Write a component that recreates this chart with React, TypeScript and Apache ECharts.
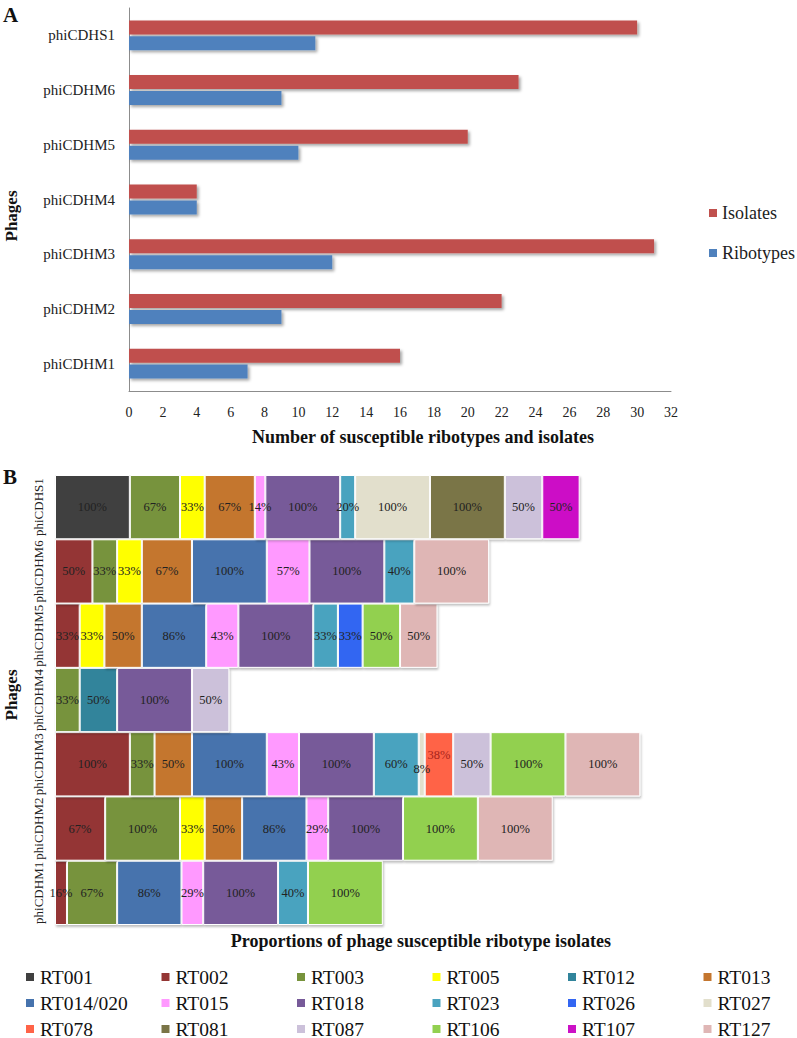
import React, { useEffect, useRef } from "react";
import * as echarts from "echarts";

const phages = ["phiCDHM1", "phiCDHM2", "phiCDHM3", "phiCDHM4", "phiCDHM5", "phiCDHM6", "phiCDHS1"];
const isolates = [16, 22, 31, 4, 20, 23, 30];
const ribotypes = [7, 9, 12, 4, 10, 9, 11];
const xTicksA = { min: 0, max: 32, interval: 2 };

const rtNames = ["RT001", "RT002", "RT003", "RT005", "RT012", "RT013", "RT014/020", "RT015", "RT018",
  "RT023", "RT026", "RT027", "RT078", "RT081", "RT087", "RT106", "RT107", "RT127"];
const rtColors = ["#404040", "#943634", "#77933c", "#ffff00", "#31849b", "#c4762f", "#4673ad", "#ff99ff", "#775a99",
  "#4aa3bf", "#3366f2", "#e2dfcc", "#ff6347", "#7a7446", "#ccc1da", "#92d050", "#cc11c6", "#dfb6b5"];
// values per phage in order phiCDHM1..phiCDHS1 (percent of ribotype isolates susceptible)
const rt001 = [null, null, null, null, null, null, 100];
const rt002 = [16, 67, 100, null, 33, 50, null];
const rt003 = [67, 100, 33, 33, null, 33, 67];
const rt005 = [null, 33, null, null, 33, 33, 33];
const rt012 = [null, null, null, 50, null, null, null];
const rt013 = [null, 50, 50, null, 50, 67, 67];
const rt014 = [86, 86, 100, null, 86, 100, null];
const rt015 = [29, 29, 43, null, 43, 57, 14];
const rt018 = [100, 100, 100, 100, 100, 100, 100];
const rt023 = [40, null, 60, null, 33, 40, 20];
const rt026 = [null, null, null, null, 33, null, null];
const rt027 = [null, null, 8, null, null, null, 100];
const rt078 = [null, null, 38, null, null, null, null];
const rt081 = [null, null, null, null, null, null, 100];
const rt087 = [null, null, 50, 50, null, null, 50];
const rt106 = [100, 100, 100, null, 50, null, null];
const rt107 = [null, null, null, null, null, null, 50];
const rt127 = [null, 100, 100, null, 50, 100, null];
const rtValues = [rt001, rt002, rt003, rt005, rt012, rt013, rt014, rt015, rt018, rt023, rt026, rt027,
  rt078, rt081, rt087, rt106, rt107, rt127];

const SERIF = "Liberation Serif";

export default function App() {
  const ref = useRef<HTMLDivElement>(null);
  useEffect(() => {
    if (!ref.current) return;
    const chart = echarts.init(ref.current, null, { renderer: "svg" });

    const labelTweaks: Record<string, any> = {
      "RT078|2": { offset: [0, -9], color: "#a8231c" },
      "RT027|2": { offset: [0, 5] },
    };

    const seriesB = rtNames.map((name, i) => ({
      name,
      type: "bar",
      stack: "B",
      xAxisIndex: 1,
      yAxisIndex: 1,
      barWidth: "100%",
      itemStyle: {
        color: rtColors[i],
        borderColor: "#ffffff",
        borderWidth: 1,
        shadowColor: "rgba(0,0,0,0.25)",
        shadowBlur: 2,
        shadowOffsetX: 1,
        shadowOffsetY: 2,
      },
      label: {
        show: true,
        position: "inside",
        formatter: "{c}%",
        fontFamily: SERIF,
        fontSize: 12.5,
        color: "#222",
      },
      data: rtValues[i].map((v, j) => {
        const t = labelTweaks[name + "|" + j];
        if (v == null) return "-";
        return t ? { value: v, label: t } : v;
      }),
    }));

    const legendRows = [0, 1, 2].map((r) => ({
      data: rtNames.slice(r * 6, r * 6 + 6),
      orient: "horizontal",
      left: 24,
      top: 967 + r * 26,
      width: 900,
      padding: 0,
      itemWidth: 10,
      itemHeight: 10,
      itemGap: 9,
      icon: "rect",
      selectedMode: false,
      textStyle: { fontFamily: SERIF, fontSize: 19.5, color: "#111", width: 110.5, lineHeight: 16 },
    }));

    const phagesTitle = (y: number) => ({
      type: "text",
      x: 11,
      y,
      rotation: Math.PI / 2,
      style: {
        text: "Phages",
        font: `bold 17px ${SERIF}`,
        fill: "#111",
        align: "center",
        verticalAlign: "middle",
        textAlign: "center",
        textVerticalAlign: "middle",
      },
    });

    chart.setOption({
      animation: false,
      backgroundColor: "#ffffff",
      textStyle: { fontFamily: SERIF },
      grid: [
        { left: 129, top: 8, width: 542, height: 383, containLabel: false },
        { left: 55, top: 475, width: 673.6, height: 450, containLabel: false },
      ],
      legend: [
        {
          data: ["Isolates", "Ribotypes"],
          orient: "vertical",
          left: 709,
          top: 204,
          padding: 0,
          itemWidth: 8,
          itemHeight: 8,
          itemGap: 22,
          icon: "rect",
          selectedMode: false,
          textStyle: { fontFamily: SERIF, fontSize: 18, color: "#222", lineHeight: 18 },
        },
        ...legendRows,
      ],
      xAxis: [
        {
          type: "value",
          gridIndex: 0,
          min: xTicksA.min,
          max: xTicksA.max,
          interval: xTicksA.interval,
          axisLine: { show: true, lineStyle: { color: "#8c8c8c", width: 1 } },
          axisTick: { show: false },
          splitLine: { show: false },
          axisLabel: { fontFamily: SERIF, fontSize: 14, color: "#222", margin: 14 },
          name: "Number of susceptible ribotypes and isolates",
          nameLocation: "middle",
          nameGap: 37,
          nameTextStyle: { fontFamily: SERIF, fontSize: 18, fontWeight: "bold", color: "#111", padding: [0, 0, 0, 46] },
        },
        {
          type: "value",
          gridIndex: 1,
          min: 0,
          max: 900,
          axisLine: { show: false },
          axisTick: { show: false },
          axisLabel: { show: false },
          splitLine: { show: false },
          name: "Proportions of phage susceptible ribotype isolates",
          nameLocation: "middle",
          nameGap: 7,
          nameTextStyle: { fontFamily: SERIF, fontSize: 18, fontWeight: "bold", color: "#111", padding: [0, 0, 0, 58] },
        },
      ],
      yAxis: [
        {
          type: "category",
          gridIndex: 0,
          data: phages,
          axisLine: { show: true, lineStyle: { color: "#8c8c8c", width: 1 } },
          axisTick: { show: false },
          axisLabel: { fontFamily: SERIF, fontSize: 15, color: "#222", margin: 14, interval: 0 },
        },
        {
          type: "category",
          gridIndex: 1,
          data: phages,
          axisLine: { show: false },
          axisTick: { show: false },
          axisLabel: { fontFamily: SERIF, fontSize: 13, color: "#222", margin: 10, rotate: 90, interval: 0 },
        },
      ],
      graphic: [
        { type: "text", left: 3, top: 4, style: { text: "A", font: `bold 21px ${SERIF}`, fill: "#111" } },
        { type: "text", left: 3, top: 466, style: { text: "B", font: `bold 21px ${SERIF}`, fill: "#111" } },
        phagesTitle(216),
        phagesTitle(695),
      ],
      series: [
        {
          name: "Isolates",
          type: "bar",
          xAxisIndex: 0,
          yAxisIndex: 0,
          barWidth: 14,
          barGap: "14%",
          itemStyle: { color: "#c0504d", shadowColor: "rgba(0,0,0,0.35)", shadowBlur: 3, shadowOffsetX: 2, shadowOffsetY: 2 },
          data: isolates,
        },
        {
          name: "Ribotypes",
          type: "bar",
          xAxisIndex: 0,
          yAxisIndex: 0,
          barWidth: 14,
          barGap: "14%",
          itemStyle: { color: "#4f81bd", shadowColor: "rgba(0,0,0,0.35)", shadowBlur: 3, shadowOffsetX: 2, shadowOffsetY: 2 },
          data: ribotypes,
        },
        ...seriesB,
      ],
    });
    return () => chart.dispose();
  }, []);
  return (
    <div
      ref={ref}
      style={{ position: "fixed", left: 0, top: 0, width: 797, height: 1038, background: "#fff" }}
    />
  );
}
